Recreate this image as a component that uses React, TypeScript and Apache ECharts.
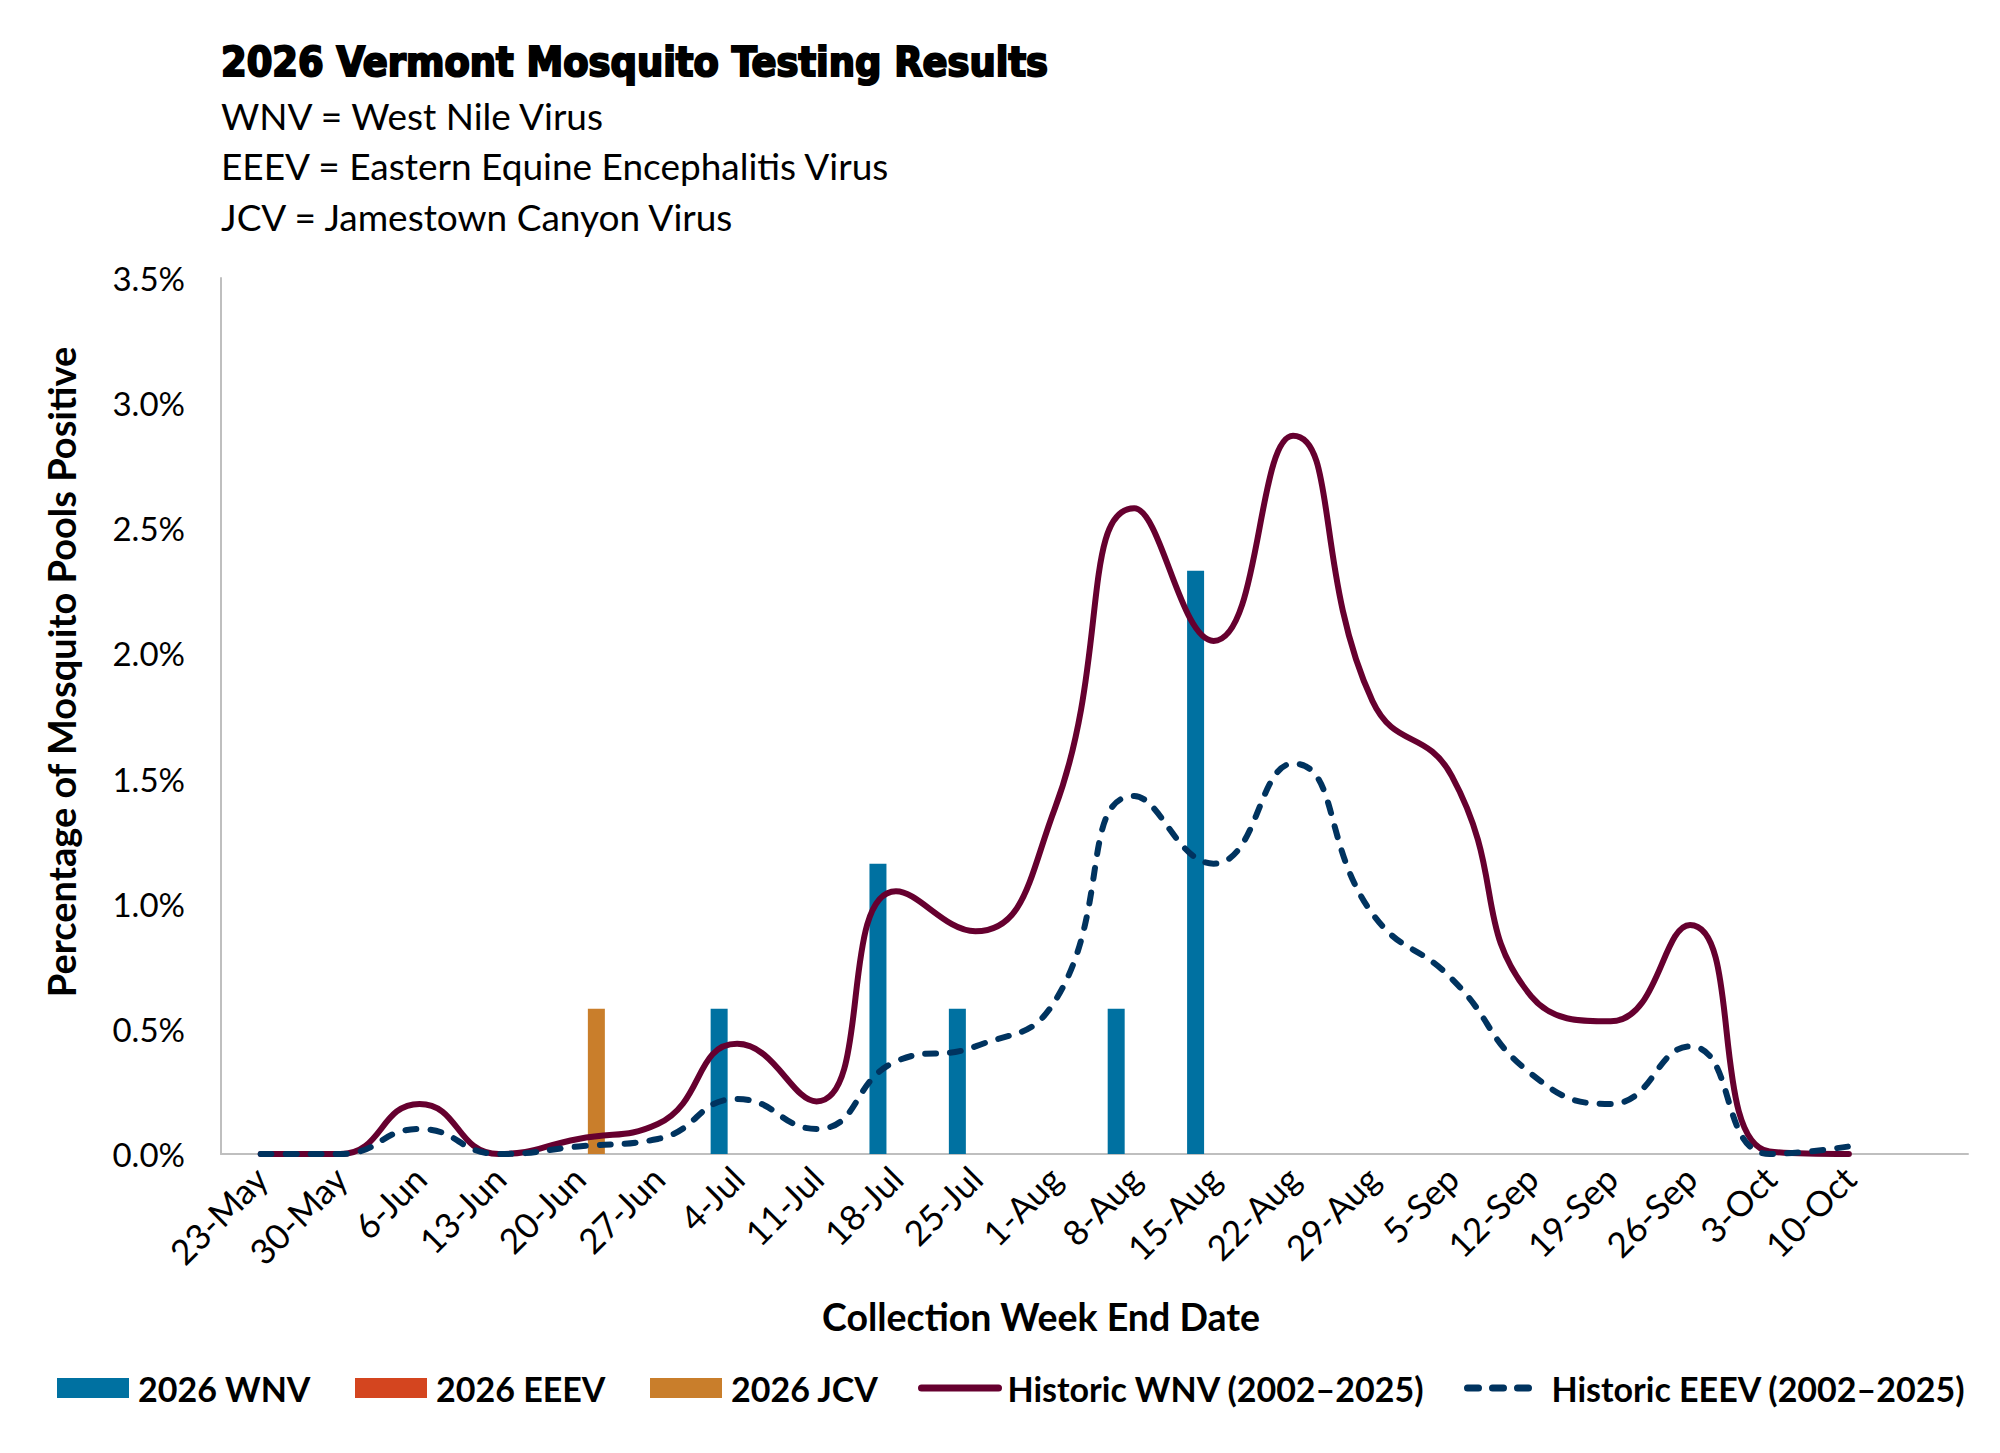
import * as echarts from 'echarts'
import { useEffect, useRef } from 'react'

const categories = [
  '23-May', '30-May', '6-Jun', '13-Jun', '20-Jun', '27-Jun', '4-Jul', '11-Jul',
  '18-Jul', '25-Jul', '1-Aug', '8-Aug', '15-Aug', '22-Aug', '29-Aug', '5-Sep',
  '12-Sep', '19-Sep', '26-Sep', '3-Oct', '10-Oct', '',
]

const wnv2026 = [
  null, null, null, null, null, null, 0.58, null, 1.16, 0.58, null, 0.58,
  2.33, null, null, null, null, null, null, null, null, null,
]

const eeev2026 = [
  null, null, null, null, null, null, null, null, null, null, null, null,
  null, null, null, null, null, null, null, null, null, null,
]

const jcv2026 = [
  null, null, null, null, 0.58, null, null, null, null, null, null, null,
  null, null, null, null, null, null, null, null, null, null,
]

const historicWnv = [
  0, 0, 0.2, 0, 0.06, 0.12, 0.44, 0.21, 1.05, 0.89, 1.38, 2.58,
  2.05, 2.87, 1.81, 1.51, 0.63, 0.53, 0.915, 0.01, 0, null,
]

const historicEeev = [
  0, 0, 0.1, 0, 0.03, 0.06, 0.22, 0.1, 0.37, 0.43, 0.61, 1.43,
  1.16, 1.56, 0.96, 0.7, 0.32, 0.2, 0.43, 0, 0.03, null,
]

const subtitleLines = [
  'WNV = West Nile Virus',
  'EEEV = Eastern Equine Encephalitis Virus',
  'JCV = Jamestown Canyon Virus',
]

const COLORS = {
  wnv: '#0071A1',
  eeev: '#D4451F',
  jcv: '#C97E2B',
  histWnv: '#66002F',
  histEeev: '#00335F',
}

const FONT = 'Lato, "Open Sans", sans-serif'

export default function App() {
  const ref = useRef<HTMLDivElement | null>(null)

  useEffect(() => {
    document.body.style.margin = '0'
    if (!ref.current) return
    const chart = echarts.init(ref.current, undefined, { renderer: 'svg' })

    const legendBase = {
      top: 1371,
      padding: 0,
      itemHeight: 20,
      textStyle: {
        fontFamily: FONT,
        fontWeight: 'bold' as const,
        fontSize: 34,
        color: '#000',
        padding: [0, 0, 0, 4],
      },
    }
    const lineLegend = {
      ...legendBase,
      itemStyle: { opacity: 0 },
      lineStyle: { width: 7 },
    }

    chart.setOption({
      animation: false,
      backgroundColor: '#fff',
      textStyle: { fontFamily: FONT },
      grid: { left: 221, right: 32, top: 278, bottom: 299, containLabel: false },
      legend: [
        { ...legendBase, left: 57, itemWidth: 72, icon: 'rect', data: ['2026 WNV'] },
        { ...legendBase, left: 355, itemWidth: 72, icon: 'rect', data: ['2026 EEEV'] },
        { ...legendBase, left: 650, itemWidth: 72, icon: 'rect', data: ['2026 JCV'] },
        { ...lineLegend, left: 918, itemWidth: 77, data: ['Historic WNV (2002–2025)'] },
        { ...lineLegend, left: 1464, itemWidth: 75, data: ['Historic EEEV (2002–2025)'] },
      ],
      xAxis: {
        type: 'category',
        data: categories,
        boundaryGap: true,
        axisLine: { lineStyle: { color: '#BFBFBF', width: 2 } },
        axisTick: { show: false },
        axisLabel: {
          rotate: 45,
          interval: 0,
          margin: 18,
          fontFamily: FONT,
          fontSize: 35,
          color: '#000',
        },
      },
      yAxis: {
        type: 'value',
        min: 0,
        max: 3.5,
        interval: 0.5,
        axisLine: { show: true, lineStyle: { color: '#BFBFBF', width: 2 } },
        axisTick: { show: false },
        splitLine: { show: false },
        axisLabel: {
          margin: 36,
          fontFamily: FONT,
          fontSize: 33,
          color: '#000',
          formatter: (v: number) => `${v.toFixed(1)}%`,
        },
      },
      series: [
        {
          name: '2026 WNV',
          type: 'bar',
          data: wnv2026,
          barWidth: 17,
          barGap: '6%',
          itemStyle: { color: COLORS.wnv },
        },
        {
          name: '2026 EEEV',
          type: 'bar',
          data: eeev2026,
          barWidth: 17,
          barGap: '6%',
          itemStyle: { color: COLORS.eeev },
        },
        {
          name: '2026 JCV',
          type: 'bar',
          data: jcv2026,
          barWidth: 17,
          barGap: '6%',
          itemStyle: { color: COLORS.jcv },
        },
        {
          name: 'Historic WNV (2002–2025)',
          type: 'line',
          data: historicWnv,
          smooth: 0.5,
          symbol: 'none',
          z: 5,
          itemStyle: { color: COLORS.histWnv },
          lineStyle: { color: COLORS.histWnv, width: 6, cap: 'round' },
        },
        {
          name: 'Historic EEEV (2002–2025)',
          type: 'line',
          data: historicEeev,
          smooth: 0.5,
          symbol: 'none',
          z: 6,
          itemStyle: { color: COLORS.histEeev },
          lineStyle: { color: COLORS.histEeev, width: 6, type: [11, 14], cap: 'round' },
        },
      ],
      graphic: [
        {
          type: 'text',
          x: 221,
          y: 62,
          style: {
            text: '2026 Vermont Mosquito Testing Results',
            fontFamily: '"Liberation Sans Narrow", "DejaVu Sans Condensed", sans-serif',
            fontWeight: 'bold',
            fontSize: 41,
            fill: '#000',
            stroke: '#000',
            lineWidth: 2,
            verticalAlign: 'middle',
          },
        },
        ...subtitleLines.map((line, i) => ({
          type: 'text',
          x: 221,
          y: 115 + i * 50.5,
          style: {
            text: line,
            fontFamily: FONT,
            fontSize: 37,
            fill: '#000',
            verticalAlign: 'middle',
          },
        })),
        {
          type: 'text',
          x: 61,
          y: 672,
          rotation: Math.PI / 2,
          style: {
            text: 'Percentage of Mosquito Pools Positive',
            fontFamily: FONT,
            fontWeight: 'bold',
            fontSize: 38,
            fill: '#000',
            align: 'center',
            verticalAlign: 'middle',
          },
        },
        {
          type: 'text',
          x: 1041,
          y: 1316,
          style: {
            text: 'Collection Week End Date',
            fontFamily: FONT,
            fontWeight: 'bold',
            fontSize: 37.5,
            fill: '#000',
            align: 'center',
            verticalAlign: 'middle',
          },
        },
      ],
    })

    return () => {
      chart.dispose()
    }
  }, [])

  return <div ref={ref} style={{ width: 2000, height: 1453 }} />
}
